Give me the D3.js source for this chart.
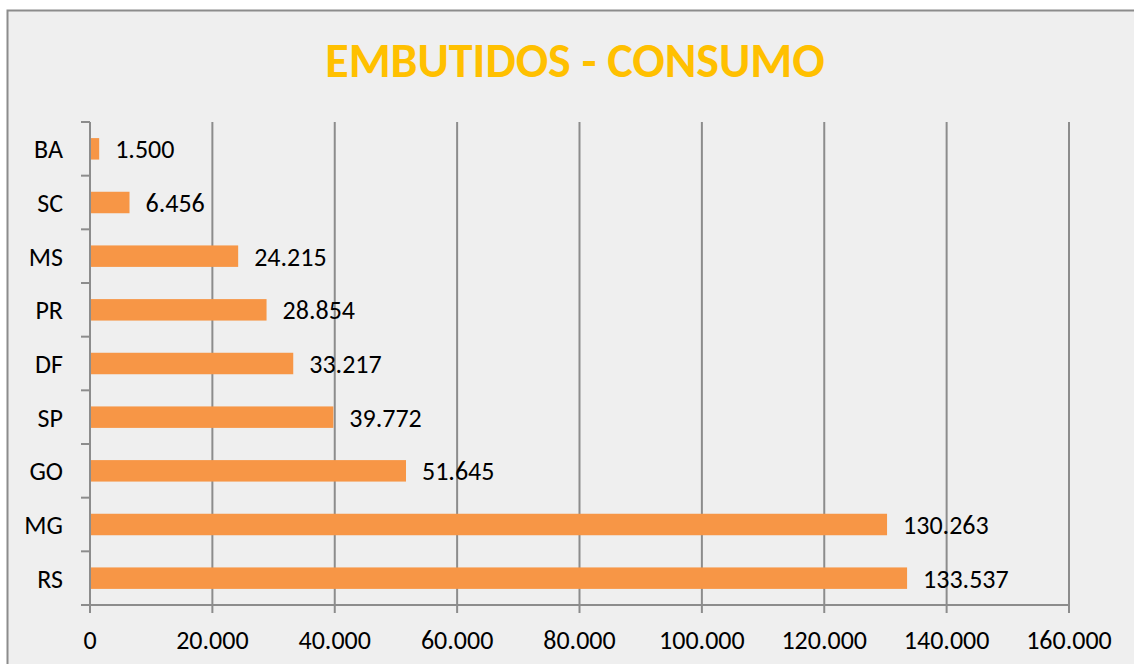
<!DOCTYPE html>
<html>
<head>
<meta charset="utf-8">
<script src="https://cdn.jsdelivr.net/npm/d3@7"></script>
<style>
  html, body { margin: 0; padding: 0; background: #ffffff; }
  svg { display: block; }
  text { font-family: Carlito, Calibri, Lato, "Open Sans", sans-serif; }
</style>
</head>
<body>
<svg id="chart" width="1134" height="664"></svg>
<script>
// States, top to bottom
const categories = ["BA", "SC", "MS", "PR", "DF", "SP", "GO", "MG", "RS"];
// Consumption per state
const consumo = [1500, 6456, 24215, 28854, 33217, 39772, 51645, 130263, 133537];
// X-axis tick values
const xTicks = [0, 20000, 40000, 60000, 80000, 100000, 120000, 140000, 160000];

const title = "EMBUTIDOS - CONSUMO";

const fmt = v => d3.format(",")(v).replace(/,/g, ".");

const svg = d3.select("#chart");
const W = 1134, H = 664;
const plot = { left: 90, right: 1069, top: 122, bottom: 605 };
const gridColor = "#8c8c8c";

// chart frame
svg.append("rect")
  .attr("x", 7.5).attr("y", 10.5)
  .attr("width", W + 20).attr("height", H + 20)
  .attr("fill", "#efefef")
  .attr("stroke", gridColor).attr("stroke-width", 2);

svg.append("text")
  .attr("x", 575).attr("y", 77)
  .attr("text-anchor", "middle")
  .attr("font-size", 48).attr("font-weight", "bold")
  .attr("fill", "#ffc000")
  .text(title);

const x = d3.scaleLinear().domain([0, 160000]).range([plot.left, plot.right]);
const y = d3.scaleBand().domain(categories).range([plot.top, plot.bottom]).padding(0);
const barH = y.bandwidth() * 0.4;

// vertical gridlines
svg.append("g").selectAll("line")
  .data(xTicks.filter(d => d > 0))
  .join("line")
  .attr("x1", d => x(d)).attr("x2", d => x(d))
  .attr("y1", plot.top).attr("y2", plot.bottom)
  .attr("stroke", gridColor).attr("stroke-width", 2);

// bars
svg.append("g").selectAll("rect")
  .data(categories)
  .join("rect")
  .attr("x", x(0))
  .attr("y", (d) => y(d) + (y.bandwidth() - barH) / 2)
  .attr("width", (d, i) => x(consumo[i]) - x(0))
  .attr("height", barH)
  .attr("fill", "#f79646");

// value labels
svg.append("g").selectAll("text")
  .data(categories)
  .join("text")
  .attr("x", (d, i) => x(consumo[i]) + 16)
  .attr("y", d => y(d) + y.bandwidth() / 2)
  .attr("dy", "0.36em")
  .attr("font-size", 26)
  .attr("fill", "#000")
  .text((d, i) => fmt(consumo[i]));

// left axis
const gy = svg.append("g").attr("transform", `translate(${plot.left},0)`);
gy.append("line")
  .attr("x1", 0).attr("x2", 0).attr("y1", plot.top).attr("y2", plot.bottom + 8)
  .attr("stroke", gridColor).attr("stroke-width", 2);
gy.selectAll("line.sep")
  .data(d3.range(categories.length + 1))
  .join("line").attr("class", "sep")
  .attr("x1", -9).attr("x2", 0)
  .attr("y1", i => plot.top + i * y.step())
  .attr("y2", i => plot.top + i * y.step())
  .attr("stroke", gridColor).attr("stroke-width", 2);
gy.selectAll("text.cat")
  .data(categories)
  .join("text").attr("class", "cat")
  .attr("x", -27)
  .attr("y", d => y(d) + y.bandwidth() / 2)
  .attr("dy", "0.36em")
  .attr("text-anchor", "end")
  .attr("font-size", 26)
  .attr("fill", "#000")
  .text(d => d);

// bottom axis
const gx = svg.append("g").attr("transform", `translate(0,${plot.bottom})`);
gx.append("line")
  .attr("x1", plot.left).attr("x2", plot.right)
  .attr("stroke", gridColor).attr("stroke-width", 2);
gx.selectAll("line.tick")
  .data(xTicks)
  .join("line").attr("class", "tick")
  .attr("x1", d => x(d)).attr("x2", d => x(d))
  .attr("y1", 0).attr("y2", 8)
  .attr("stroke", gridColor).attr("stroke-width", 2);
gx.selectAll("text")
  .data(xTicks)
  .join("text")
  .attr("x", d => x(d))
  .attr("y", 44)
  .attr("text-anchor", "middle")
  .attr("font-size", 26)
  .attr("fill", "#000")
  .text(d => fmt(d));
</script>
</body>
</html>
